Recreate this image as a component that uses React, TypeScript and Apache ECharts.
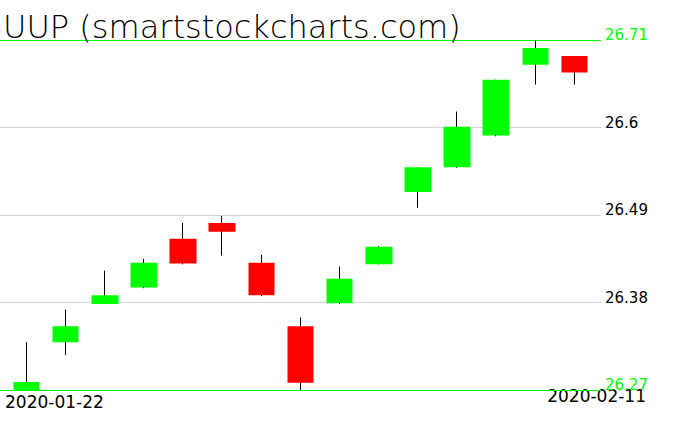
import React, { useEffect, useRef } from "react";
import * as echarts from "echarts";

const titleText = "UUP (smartstockcharts.com)";
const dates = [
  "2020-01-22", "2020-01-23", "2020-01-24", "2020-01-27", "2020-01-28",
  "2020-01-29", "2020-01-30", "2020-01-31", "2020-02-03", "2020-02-04",
  "2020-02-05", "2020-02-06", "2020-02-07", "2020-02-10", "2020-02-11",
];
const opens = [26.27, 26.33, 26.378, 26.399, 26.46, 26.48, 26.43, 26.35, 26.379, 26.428, 26.519, 26.55, 26.59, 26.679, 26.69];
const closes = [26.28, 26.35, 26.389, 26.43, 26.429, 26.469, 26.389, 26.279, 26.41, 26.45, 26.55, 26.601, 26.66, 26.7, 26.669];
const lows = [26.27, 26.314, 26.378, 26.398, 26.428, 26.439, 26.388, 26.27, 26.378, 26.428, 26.499, 26.549, 26.589, 26.654, 26.654];
const highs = [26.33, 26.371, 26.42, 26.435, 26.48, 26.489, 26.44, 26.361, 26.425, 26.451, 26.55, 26.62, 26.66, 26.71, 26.69];
const yTicks = [26.27, 26.38, 26.49, 26.6, 26.71];

const GREEN = "#00ff00";
const RED = "#ff0000";
const GRAY = "#d3d3d3";

export default function App() {
  const ref = useRef<HTMLDivElement>(null);
  useEffect(() => {
    if (!ref.current) return;
    const chart = echarts.init(ref.current, undefined, { renderer: "svg" });
    const yMin = yTicks[0];
    const yMax = yTicks[yTicks.length - 1];
    const interval = +(yTicks[1] - yTicks[0]).toFixed(4);
    const ohlc = dates.map((_, i) => [opens[i], closes[i], lows[i], highs[i]]);
    const splitColors = yTicks.map((t) => (t === yMin || t === yMax ? GREEN : GRAY));

    chart.setOption({
      animation: false,
      backgroundColor: "#ffffff",
      title: {
        text: titleText,
        left: 3,
        top: 11,
        padding: 0,
        textStyle: {
          fontFamily: "DejaVu Sans",
          fontSize: 32,
          fontWeight: 200,
          color: "#000000",
        },
      },
      grid: [
        { left: 7, width: 587, top: 40, height: 350 },
        { left: 0, width: 601, top: 40, height: 350 },
      ],
      xAxis: [
        { type: "category", gridIndex: 0, data: dates, boundaryGap: true, show: false },
        { type: "value", gridIndex: 1, min: 0, max: 1, show: false },
      ],
      yAxis: [
        { type: "value", gridIndex: 0, min: yMin, max: yMax, show: false },
        {
          type: "value",
          gridIndex: 1,
          min: yMin,
          max: yMax,
          interval,
          position: "right",
          axisLine: { show: false },
          axisTick: { show: false },
          splitLine: { show: true, lineStyle: { color: splitColors, width: 1 } },
          axisLabel: {
            margin: 4,
            align: "left",
            verticalAlign: "bottom",
            lineHeight: 10,
            fontFamily: "DejaVu Sans",
            fontSize: 15,
            formatter: (v: number) => parseFloat(v.toFixed(2)).toString(),
            color: (v: any) => {
              const n = Number(v);
              return Math.abs(n - yMin) < 1e-6 || Math.abs(n - yMax) < 1e-6 ? GREEN : "#000000";
            },
          },
        },
      ],
      series: [
        {
          name: "wick",
          type: "candlestick",
          xAxisIndex: 0,
          yAxisIndex: 0,
          barWidth: 1,
          data: ohlc,
          itemStyle: {
            color: "#000000",
            color0: "#000000",
            borderColor: "#000000",
            borderColor0: "#000000",
            borderWidth: 1,
          },
          z: 3,
        },
        {
          name: "body",
          type: "candlestick",
          xAxisIndex: 0,
          yAxisIndex: 0,
          barWidth: 27,
          data: ohlc,
          itemStyle: {
            color: GREEN,
            color0: RED,
            borderColor: GREEN,
            borderColor0: RED,
            borderWidth: 0,
          },
          z: 4,
        },
      ],
      graphic: [
        {
          type: "text",
          left: 5,
          top: 393,
          style: {
            text: dates[0],
            fontFamily: "DejaVu Sans",
            fontSize: 17,
            fill: "#000000",
          },
        },
        {
          type: "text",
          right: 676 - 646,
          top: 387,
          style: {
            text: dates[dates.length - 1],
            fontFamily: "DejaVu Sans",
            fontSize: 17,
            fill: "#000000",
          },
        },
      ],
    });
    return () => chart.dispose();
  }, []);
  return (
    <div
      ref={ref}
      style={{ position: "fixed", left: 0, top: 0, width: 676, height: 431, background: "#fff" }}
    />
  );
}
